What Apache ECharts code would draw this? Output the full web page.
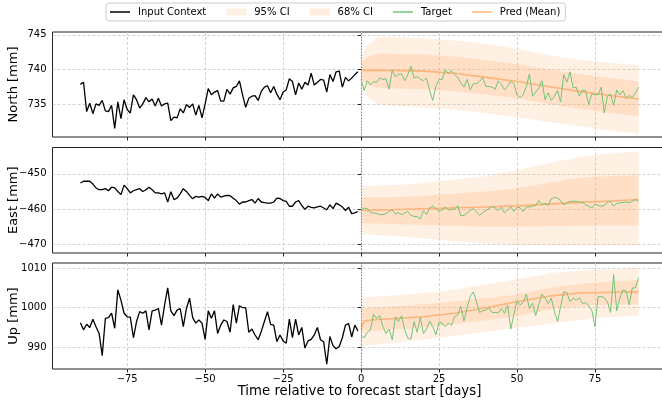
<!DOCTYPE html>
<html><head><meta charset="utf-8">
<script src="https://cdn.jsdelivr.net/npm/echarts@6/dist/echarts.min.js"></script>
<style>html,body{margin:0;padding:0;background:#fff}#c{width:662px;height:402px}</style>
</head><body><div id="c"></div><script>
const xTicks = [-75, -50, -25, 0, 25, 50, 75];
const contextStart = -90;
const targetStart = 0;

const northTicks = [735, 740, 745];
const eastTicks = [-470, -460, -450];
const upTicks = [990, 1000, 1010];

const northContext = [737.9,738.2,734.0,735.2,733.7,735.1,734.9,735.6,734.1,734.0,
734.9,731.6,735.4,733.0,735.7,734.3,733.8,736.4,735.7,734.5,
735.1,736.0,735.4,735.8,734.8,735.9,734.8,735.1,735.2,732.7,
733.2,733.1,734.4,733.8,735.0,734.6,735.1,733.5,734.9,733.1,
735.1,737.3,736.4,736.8,737.0,735.5,735.5,737.2,736.5,737.4,
737.6,738.4,736.4,734.6,735.9,736.2,736.3,735.6,736.9,737.5,
737.7,736.7,737.6,736.5,735.7,736.8,737.1,738.7,738.3,736.4,
738.1,737.2,738.2,737.8,739.5,737.8,738.2,738.6,738.5,736.8,
739.3,738.3,739.7,739.8,737.5,738.9,738.4,738.8,739.3,739.7];
const northTarget = [738.6,737.0,738.4,737.8,738.3,738.2,738.8,738.6,738.7,737.2,
739.9,739.0,739.3,739.4,738.4,739.3,740.5,738.8,739.0,738.7,
738.4,738.8,737.0,735.6,737.6,738.6,738.6,740.0,739.4,739.9,739.3,
738.9,738.1,737.5,738.6,737.1,738.0,738.0,738.3,738.9,737.6,
737.6,737.5,737.2,738.4,737.9,737.1,737.6,738.3,738.0,736.4,736.0,
736.4,737.6,739.4,736.2,736.8,737.4,738.4,735.7,736.7,735.6,
736.2,737.0,735.4,739.3,738.2,739.7,737.4,737.5,736.2,737.1,
737.0,735.0,736.5,736.4,736.4,737.5,733.8,736.2,736.5,734.9,
737.1,736.4,737.0,735.9,736.3,736.0,736.7,737.5];
const northMeanDays = [0,10,20,30,40,50,60,70,80,89];
const northMean = [739.9,739.9,739.8,739.5,738.9,738.3,737.6,736.9,736.3,735.8];
const northBandDays = [0,2,5,10,20,30,40,50,60,70,80,89];
const northHi95 = [741.8,743.5,744.6,744.7,744.5,744.2,743.7,743.0,742.1,741.4,741.0,740.6];
const northLo95 = [737.8,736.2,735.1,734.8,734.6,734.3,733.8,733.2,732.5,731.9,731.3,730.8];
const northHi68 = [741.0,741.8,742.3,742.3,742.2,741.9,741.4,740.8,740.1,739.4,738.8,738.3];
const northLo68 = [738.6,737.9,737.4,737.3,737.2,736.9,736.4,735.9,735.1,734.4,733.8,733.3];

const eastContext = [-452.6,-452.1,-452.1,-452.1,-452.9,-454.0,-454.5,-454.5,-454.2,-454.8,
-453.8,-454.0,-455.0,-455.9,-453.2,-454.2,-455.4,-454.8,-454.5,-454.2,
-455.0,-454.5,-453.8,-454.5,-455.4,-455.4,-455.7,-455.4,-458.0,-455.1,
-457.3,-456.9,-455.7,-454.2,-455.0,-456.1,-457.1,-456.4,-456.6,-456.4,
-456.7,-457.6,-455.7,-456.9,-455.7,-456.6,-456.3,-456.1,-456.2,-456.9,
-457.6,-458.6,-458.0,-458.0,-457.6,-457.3,-458.3,-457.0,-458.0,-458.2,
-458.3,-458.3,-458.0,-456.9,-457.0,-457.6,-457.8,-459.2,-459.2,-458.0,
-457.6,-459.0,-460.1,-459.2,-459.5,-459.7,-459.4,-459.2,-459.7,-460.2,
-458.8,-459.9,-458.3,-458.8,-459.4,-460.4,-459.5,-461.3,-461.1,-460.7];
const eastTarget = [-460.2,-459.7,-459.9,-461.0,-461.1,-461.3,-461.6,-461.6,-461.3,-460.7,
-460.2,-461.4,-461.0,-461.6,-461.1,-460.7,-461.8,-462.1,-462.1,-462.8,-460.5,
-461.6,-459.7,-459.2,-459.9,-460.7,-460.2,-459.5,-460.2,-460.2,-460.0,
-459.0,-461.9,-461.8,-461.1,-460.4,-459.9,-460.7,-461.8,-461.0,-460.4,
-459.9,-459.2,-459.7,-460.4,-459.5,-461.1,-460.2,-459.4,-460.7,-459.5,-459.6,
-460.7,-459.4,-459.4,-459.2,-459.0,-457.6,-458.8,-458.3,-459.0,-457.1,
-456.7,-456.9,-457.6,-458.8,-458.3,-457.8,-457.8,-457.8,-458.0,-458.1,
-458.8,-459.2,-459.7,-458.6,-459.0,-459.2,-459.0,-458.0,-457.8,-459.2,
-458.3,-458.3,-458.1,-458.0,-458.2,-457.8,-457.3,-457.8];
const eastMeanDays = [0,20,40,50,60,70,80,89];
const eastMean = [-460.4,-459.9,-459.4,-459.1,-458.6,-458.1,-457.7,-457.3];
const eastBandDays = [0,17,25,40,50,60,70,80,89];
const eastHi95 = [-453.5,-452.9,-452.1,-450.7,-448.9,-447.0,-445.2,-444.2,-443.5];
const eastLo95 = [-467.1,-468.1,-468.8,-469.7,-470.2,-470.3,-470.3,-470.3,-470.3];
const eastHi68 = [-456.7,-456.4,-455.9,-455.0,-454.0,-452.6,-451.1,-450.6,-450.4];
const eastLo68 = [-464.0,-464.5,-464.7,-465.0,-465.0,-464.9,-464.8,-464.7,-464.7];

const upContext = [996.2,994.4,995.8,995.0,997.1,995.2,993.5,987.9,997.3,997.5,
998.6,994.8,1004.5,1001.9,998.6,997.7,997.6,992.4,996.5,999.0,
998.6,999.2,994.4,999.2,999.4,999.8,995.6,1000.7,1005.0,999.2,
998.0,999.4,999.8,995.2,999.8,1002.4,997.5,996.1,996.9,996.1,
992.0,999.2,997.3,999.2,993.5,995.6,996.9,996.5,993.8,1000.8,
996.1,1000.5,1000.0,1000.0,993.8,994.6,993.1,991.9,994.0,996.5,
999.0,995.8,995.6,991.4,993.1,991.6,991.0,997.1,992.4,997.1,
993.1,995.0,989.8,991.6,992.0,993.1,995.0,991.9,991.4,985.7,
992.7,990.4,989.6,990.2,992.4,995.6,996.0,992.6,995.6,994.1];
const upTarget = [992.9,992.4,993.8,994.4,998.3,997.3,998.0,995.2,993.5,994.6,
991.9,997.7,996.5,998.0,994.4,992.3,992.1,996.5,993.8,997.5,
993.5,994.6,996.6,995.2,993.1,996.3,996.1,995.2,996.1,995.6,
997.7,998.2,1000.3,996.6,1000.0,1002.8,1004.0,1001.5,998.8,999.2,
999.4,1000.0,998.8,998.8,998.7,999.8,998.6,1000.7,994.6,998.2,
1001.7,1000.7,1001.3,1003.4,999.8,1001.1,998.0,1000.8,1003.4,1002.5,1001.0,
1002.4,999.0,996.5,1000.3,1004.0,1003.8,1001.5,1002.4,1001.9,1002.5,
1001.1,1001.3,1000.5,999.4,995.2,1002.8,1002.8,1002.5,1001.5,998.8,
1008.4,999.2,1002.5,1004.5,1004.2,1000.7,1005.0,1005.0,1007.6];
const upMeanDays = [0,1,3,20,30,40,50,60,70,80,89];
const upMean = [994.6,996.6,996.9,997.7,998.6,1000.0,1001.5,1002.9,1003.7,1003.9,1004.0];
const upBandDays = [0,25,49,62,75,89];
const upHi95 = [1002.5,1004.0,1007.0,1008.9,1009.5,1010.0];
const upLo95 = [990.2,992.4,994.8,996.1,997.3,998.0];
const upHi68 = [999.8,1001.2,1003.2,1005.3,1006.4,1007.0];
const upLo68 = [993.9,995.3,997.7,999.8,1000.7,1000.8];

const FONT = 'DejaVu Sans';
const C95 = 'rgba(253,174,107,0.18)';
const C68 = 'rgba(253,174,107,0.24)';
const CCTX = '#000000';
const CTGT = '#74c476';
const CMEAN = '#fdb47a';

const panels = [
  {name:'North [mm]', min:730.36, max:745.4, ticks:northTicks, ctx:northContext, tgt:northTarget,
   meanDays:northMeanDays, mean:northMean, bandDays:northBandDays, hi95:northHi95, lo95:northLo95, hi68:northHi68, lo68:northLo68},
  {name:'East [mm]', min:-472.5, max:-442.5, ticks:eastTicks, ctx:eastContext, tgt:eastTarget,
   meanDays:eastMeanDays, mean:eastMean, bandDays:eastBandDays, hi95:eastHi95, lo95:eastLo95, hi68:eastHi68, lo68:eastLo68},
  {name:'Up [mm]', min:984.5, max:1011.3, ticks:upTicks, ctx:upContext, tgt:upTarget,
   meanDays:upMeanDays, mean:upMean, bandDays:upBandDays, hi95:upHi95, lo95:upLo95, hi68:upHi68, lo68:upLo68}
];
const gridPos = [{top:32, height:105}, {top:147.5, height:105.5}, {top:263, height:106}];

const fmt = v => (v < 0 ? '\u2212' + Math.abs(v) : String(v));

const grids = [], xAxes = [], yAxes = [], series = [];
panels.forEach((p, i) => {
  grids.push({left:52.5, width:614, top:gridPos[i].top, height:gridPos[i].height,
    containLabel:false, outerBoundsMode:'none',
    show:true, borderColor:'#222', borderWidth:1, backgroundColor:'transparent'});
  xAxes.push({type:'value', gridIndex:i, min:-98.95, max:97.95,
    axisLine:{show:false},
    axisTick:{show:true, customValues:xTicks, length:3.5, lineStyle:{color:'#222', width:1}},
    axisLabel:{show:i===2, customValues:xTicks, formatter:fmt, fontSize:10, fontFamily:FONT, color:'#000', margin:5},
    splitLine:{show:true, lineStyle:{color:'#c8c8c8', type:[3,2], width:0.8}},
    name: i===2 ? 'Time relative to forecast start [days]' : '',
    nameLocation:'middle', nameGap:16, nameMoveOverlap:false,
    nameTextStyle:{fontSize:13.3, fontFamily:FONT, color:'#000'}
  });
  yAxes.push({type:'value', gridIndex:i, min:p.min, max:p.max,
    axisLine:{show:false},
    axisTick:{show:true, customValues:p.ticks, length:3.5, lineStyle:{color:'#222', width:1}},
    axisLabel:{customValues:p.ticks, formatter:fmt, fontSize:10, fontFamily:FONT, color:'#000', margin:6},
    splitLine:{show:true, lineStyle:{color:'#c8c8c8', type:[3,2], width:0.8}},
    name:p.name, nameLocation:'middle', nameGap:32, nameRotate:90, nameMoveOverlap:false,
    nameTextStyle:{fontSize:13, fontFamily:FONT, color:'#000'}
  });
  const band = (nm, lo, hi, col, z) => ({
    type:'custom', name:nm, xAxisIndex:i, yAxisIndex:i, z:z, silent:true,
    itemStyle:{color:col},
    data:p.bandDays.map((d, k) => [d, lo[k], hi[k]]),
    encode:{x:0, y:[1,2]},
    renderItem:(params, api) => {
      if (params.dataIndex !== 0) return null;
      const pts = [];
      for (let k = 0; k < p.bandDays.length; k++) pts.push(api.coord([p.bandDays[k], hi[k]]));
      for (let k = p.bandDays.length - 1; k >= 0; k--) pts.push(api.coord([p.bandDays[k], lo[k]]));
      return {type:'polygon', shape:{points:pts}, style:{fill:col}};
    }
  });
  series.push(band('95% CI', p.lo95, p.hi95, C95, 1));
  series.push(band('68% CI', p.lo68, p.hi68, C68, 2));
  series.push({type:'line', name:'Input Context', xAxisIndex:i, yAxisIndex:i, z:3,
    symbol:'none', showSymbol:false, lineStyle:{color:CCTX, width:1.3}, itemStyle:{color:CCTX},
    data:p.ctx.map((v, k) => [contextStart + k, v]),
    markLine:{silent:true, symbol:'none', label:{show:false}, animation:false,
      lineStyle:{color:'#888', type:[1.5,1.5], width:1}, data:[{xAxis:0}]}
  });
  series.push({type:'line', name:'Pred (Mean)', xAxisIndex:i, yAxisIndex:i, z:4,
    symbol:'none', showSymbol:false, lineStyle:{color:CMEAN, width:1.6}, itemStyle:{color:CMEAN},
    data:p.meanDays.map((d, k) => [d, p.mean[k]])
  });
  series.push({type:'line', name:'Target', xAxisIndex:i, yAxisIndex:i, z:5,
    symbol:'none', showSymbol:false, lineStyle:{color:CTGT, width:1}, itemStyle:{color:CTGT},
    data:p.tgt.map((v, k) => [targetStart + k, v])
  });
});

const LINE_ICON = 'path://M0,0H40V3H0Z';
const chart = echarts.init(document.getElementById('c'), null, {renderer:'canvas'});
chart.setOption({
  animation:false,
  backgroundColor:'#fff',
  legend:{left:106, top:3, itemWidth:20, itemHeight:7, itemGap:20, padding:[4,5,4,4],
    borderColor:'#ccc', borderWidth:1, borderRadius:3, symbolKeepAspect:true,
    textStyle:{fontSize:10, fontFamily:FONT, color:'#000', padding:[0,0,0,3]},
    data:[{name:'Input Context', icon:LINE_ICON, itemStyle:{color:CCTX}},
          {name:'95% CI', icon:'rect', itemStyle:{color:C95}},
          {name:'68% CI', icon:'rect', itemStyle:{color:C68}},
          {name:'Target', icon:LINE_ICON, itemStyle:{color:CTGT}},
          {name:'Pred (Mean)', icon:LINE_ICON, itemStyle:{color:CMEAN}}]
  },
  grid:grids, xAxis:xAxes, yAxis:yAxes, series:series
});
</script></body></html>
